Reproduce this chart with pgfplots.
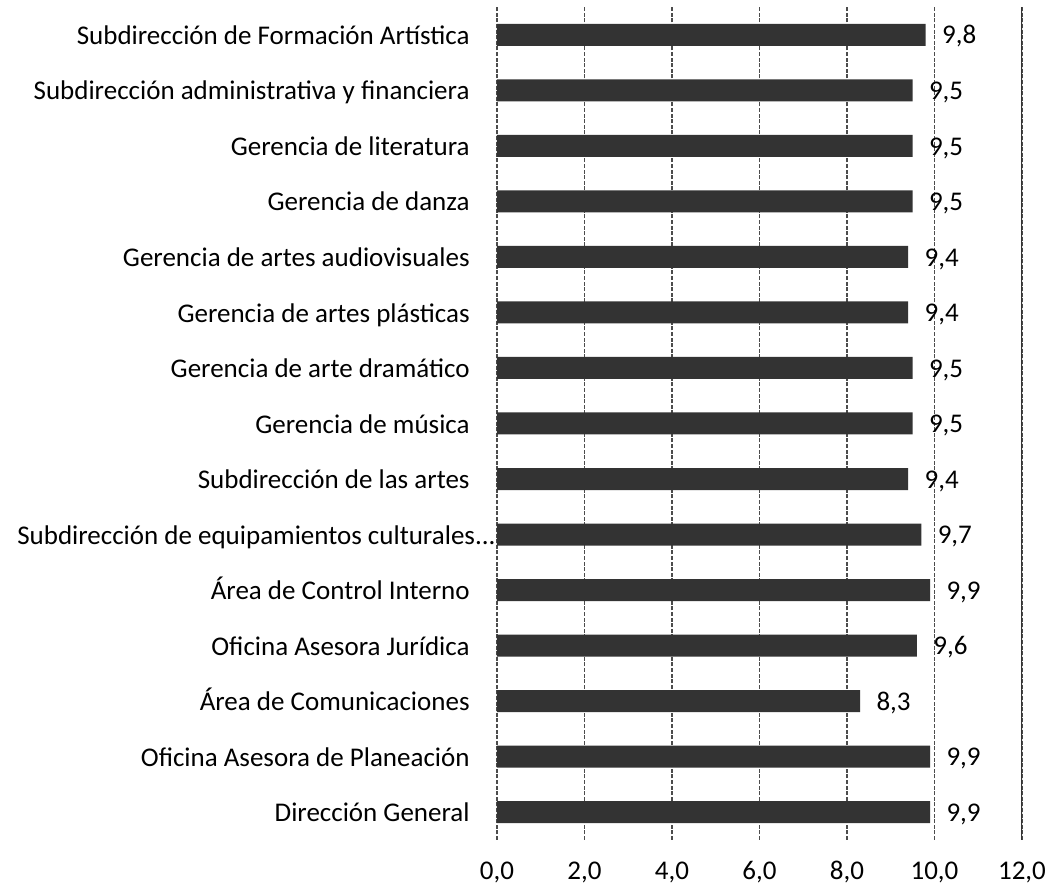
\documentclass[border=0pt]{standalone}
\usepackage{pgfplots}
\pgfplotsset{compat=1.18}
\usepackage{fontspec}
\setmainfont{Carlito}
\begin{document}
\begin{tikzpicture}[x=1pt,y=1pt]
\path[use as bounding box] (-248.5,-23.5) rectangle (276,420);
\begin{axis}[
  at={(0,0)}, anchor=south west,
  scale only axis, width=262.5pt, height=416.5pt,
  xbar, bar width=11pt,
  xmin=0, xmax=12, ymin=-0.5, ymax=14.5,
  xtick={0,2,4,6,8,10,12}, ytick={0,1,2,3,4,5,6,7,8,9,10,11,12,13,14},
  yticklabels={Dirección General, Oficina Asesora de Planeación, Área de Comunicaciones, Oficina Asesora Jurídica, Área de Control Interno, {Subdirección de equipamientos culturales.\kern0pt.\kern0pt.\hspace*{-13pt}}, Subdirección de las artes, Gerencia de música, Gerencia de arte dramático, Gerencia de artes plásticas, Gerencia de artes audiovisuales, Gerencia de danza, Gerencia de literatura, Subdirección administrativa y financiera, Subdirección de Formación Artística},
  axis x line=bottom, axis y line=left, axis line style={draw=none},
  xmajorgrids, grid style={black!70, line width=0.9pt, dash pattern=on 2pt off 0.8pt},
  major tick length=0pt,
  /pgf/number format/.cd, use comma, fixed, fixed zerofill, precision=1, assume math mode=true,
  /pgfplots/.cd,
  tick label style={font=\fontsize{13.5}{16}\selectfont},
  yticklabel style={anchor=base east, inner sep=0pt, xshift=-13.5pt, yshift=-4.8pt},
  xticklabel style={anchor=base, inner sep=0pt, yshift=-20pt},
  point meta=x,
  nodes near coords,
  nodes near coords align=horizontal,
  every node near coord/.append style={anchor=base west, inner sep=0pt, xshift=8pt, yshift=-4.6pt, font=\fontsize{13.5}{16}\selectfont},
]
\addplot[fill=black!80, draw=none] coordinates {
(9.9,0) (9.9,1) (8.3,2) (9.6,3) (9.9,4) (9.7,5) (9.4,6) (9.5,7) (9.5,8) (9.4,9) (9.4,10) (9.5,11) (9.5,12) (9.5,13) (9.8,14)
};
\draw[black!80, line width=1pt] (axis cs:12,-0.5) -- (axis cs:12,14.5);
\end{axis}
\end{tikzpicture}
\end{document}
